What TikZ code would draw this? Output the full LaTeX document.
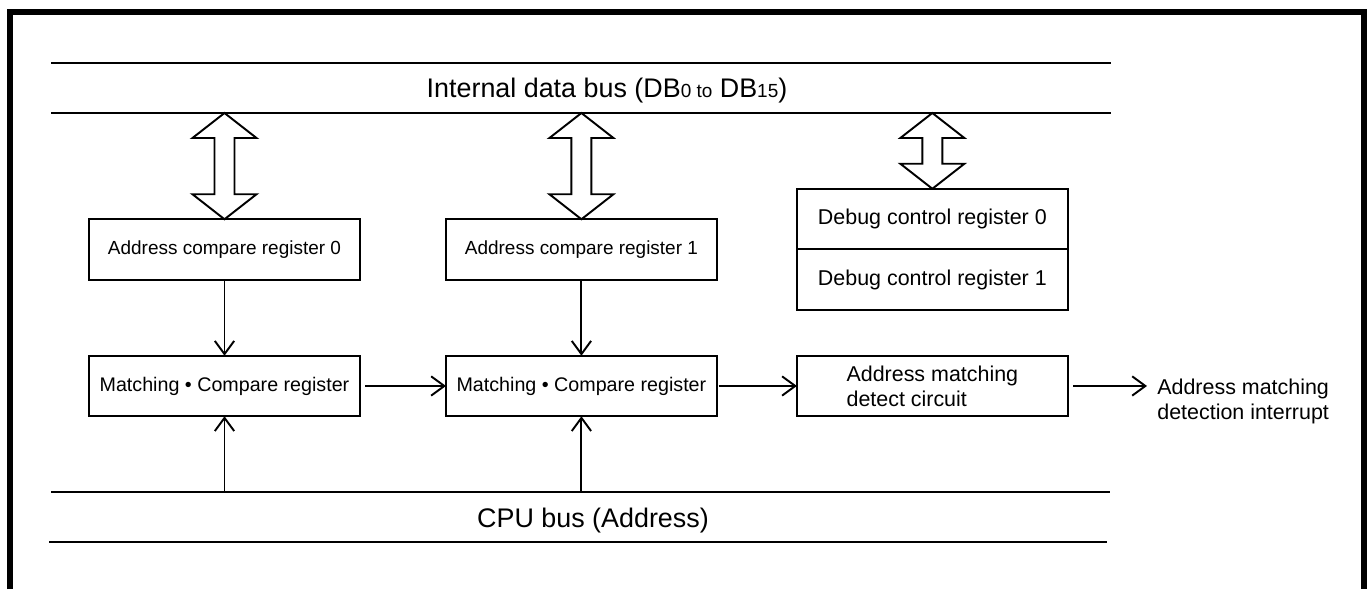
\documentclass[tikz,border=0pt]{standalone}
\usepackage{fontspec}
\setmainfont{Liberation Sans}
\usetikzlibrary{arrows.meta,positioning,calc}

\begin{document}
\begin{tikzpicture}[x=0.02cm, y=-0.02cm,
    regbox/.style={rectangle, draw, line width=1.1pt, minimum width=5.42cm,
      minimum height=1.21cm, align=center, inner sep=0pt, outer sep=0pt,
      font=\fontsize{11.2}{14}\selectfont},
    bigtxt/.style={font=\fontsize{12.2}{14.2}\selectfont},
    buslbl/.style={font=\fontsize{15.3}{18}\selectfont, anchor=base, inner sep=0pt},
    buswire/.style={line width=1.1pt},
    arr/.style={-{Straight Barb[length=7.5pt, width=11pt]}, line width=1.1pt},
    hollow/.style={draw, fill=white, line width=1.1pt},
    framelin/.style={line width=3.3pt},
  ]
  \useasboundingbox (0,0) rectangle (1369,589);

  % ---- outer frame ----
  \draw[framelin] (10,589) -- (10,12) -- (1364,12) -- (1364,589);

  % ---- buses ----
  \coordinate (dbus) at (51,113);
  \coordinate (cbus) at (51,492);
  \draw[buswire] (51,63) -- (1111,63);
  \draw[buswire] (dbus) -- (1111,113);
  \draw[buswire] (cbus) -- (1110,492);
  \draw[buswire] (49,542) -- (1107,542);
  \node[buslbl] (dbuslbl) at (607,97)
    {Internal data bus (DB{\fontsize{10.8}{12}\selectfont 0 to} DB{\fontsize{10.8}{12}\selectfont 15})};
  \node[buslbl] (cbuslbl) at (593,527) {CPU bus (Address)};

  % ---- registers ----
  \node[regbox, font=\fontsize{10.8}{14}\selectfont] (acr0) at (224.5,249.5)
    {Address compare register 0};
  \node[regbox, font=\fontsize{10.8}{14}\selectfont, right=1.72cm of acr0] (acr1)
    {Address compare register 1};
  \node[regbox, below=1.52cm of acr0] (mcr0) {Matching • Compare register};
  \node[regbox, below=1.52cm of acr1] (mcr1) {Matching • Compare register};
  \node[regbox, bigtxt, right=1.6cm of mcr1, align=left] (amdc)
    {Address matching\\ detect circuit};
  \node[regbox, bigtxt, above=0.92cm of amdc] (dcr1) {Debug control register 1};
  \node[regbox, bigtxt, above=0pt of dcr1] (dcr0) {Debug control register 0};
  \node[bigtxt, anchor=west, align=left, inner xsep=0.2cm, inner ysep=0pt]
    (irq) at (1147,401) {Address matching\\ detection interrupt};

  % ---- data bus double arrows ----
  \foreach \n in {acr0,acr1,dcr0} {
    \draw[hollow] (\n.north) -- ++(32,-25) -- ++(-22,0)
      -- ($(\n.north |- dbus)+(10,25)$) -- ++(22,0) -- (\n.north |- dbus)
      -- ++(-32,25) -- ++(22,0) -- ($(\n.north)+(-10,-25)$) -- ++(-22,0) -- cycle;
  }

  % ---- connectors ----
  \draw[arr] (acr0) -- (mcr0);
  \draw[arr] (acr1) -- (mcr1);
  \draw[arr] (mcr0.south |- cbus) -- (mcr0);
  \draw[arr] (mcr1.south |- cbus) -- (mcr1);
  \draw[arr, shorten <=3pt] (mcr0) -- (mcr1);
  \draw[arr, shorten <=1pt] (mcr1) -- (amdc);
  \draw[arr, shorten <=3pt] (amdc) -- (amdc.east -| irq.west);
\end{tikzpicture}
\end{document}
